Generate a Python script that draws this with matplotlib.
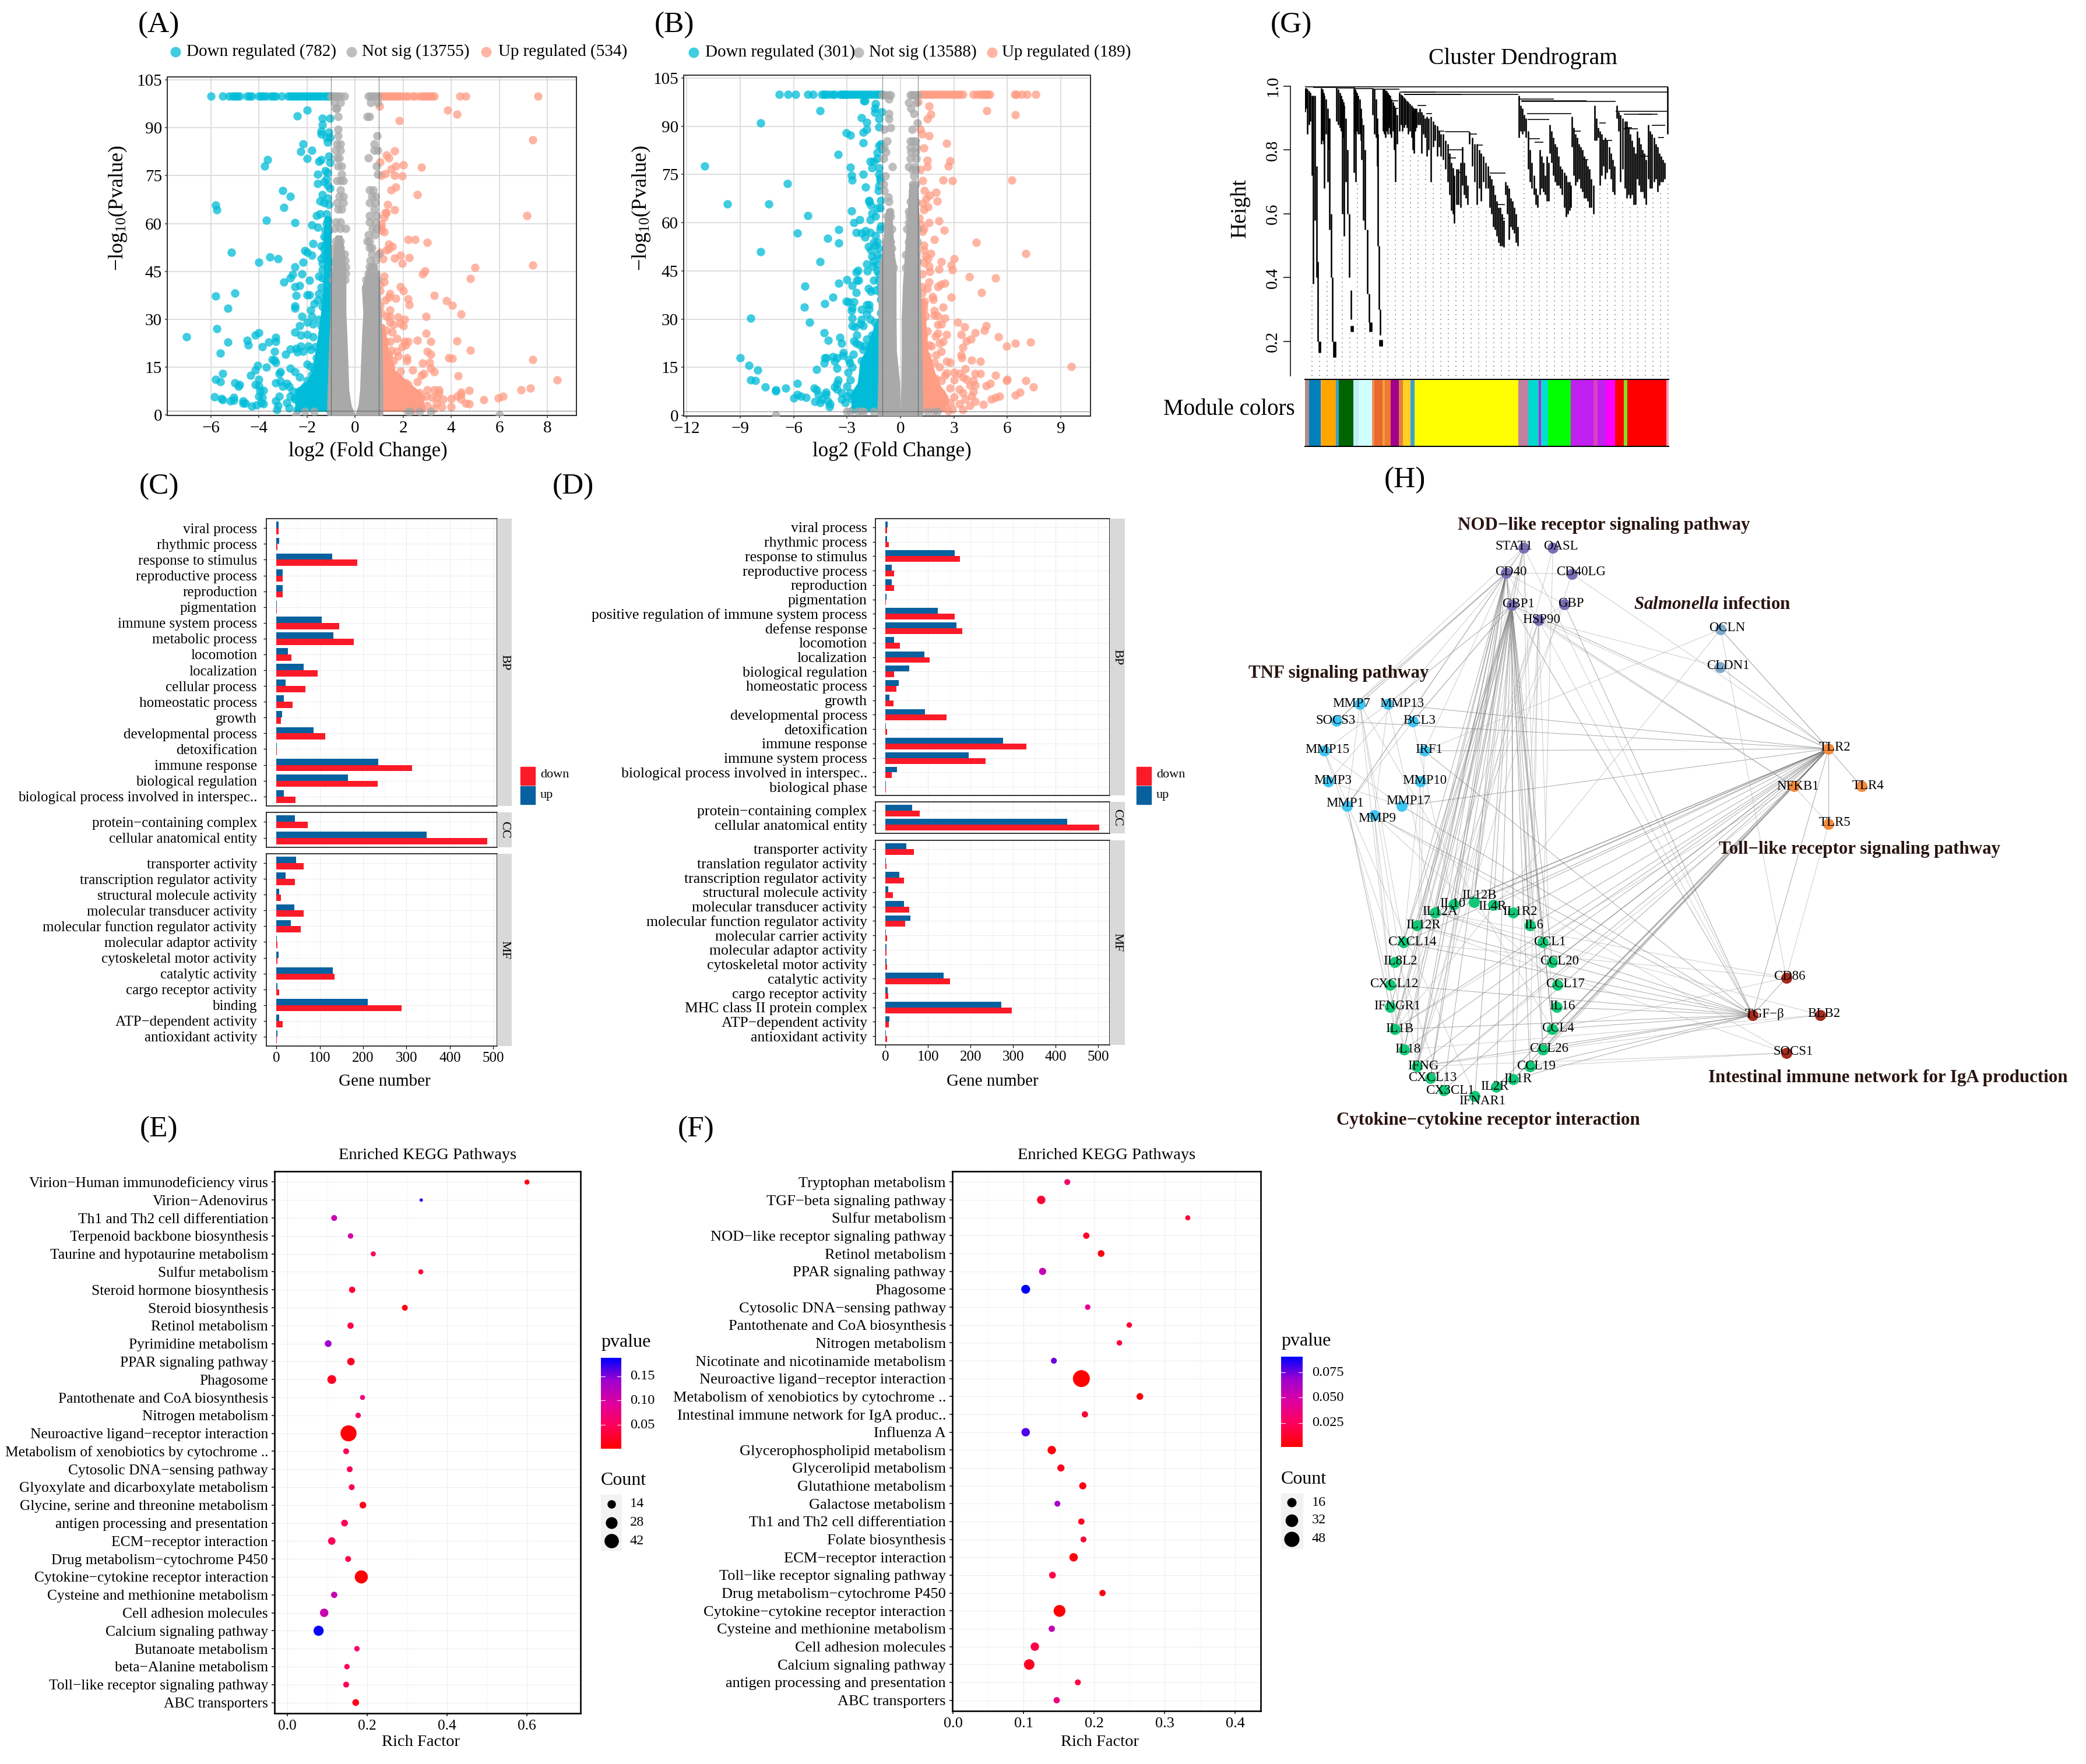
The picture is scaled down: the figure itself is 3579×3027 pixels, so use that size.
#!/usr/bin/env python3
"""Multi-panel transcriptome figure: volcano, GO bars, KEGG dots, WGCNA dendrogram, network."""

import matplotlib
matplotlib.use("Agg")
import matplotlib.pyplot as plt
import matplotlib.ticker
import numpy as np
from matplotlib.colors import LinearSegmentedColormap
from matplotlib.patches import Rectangle
from matplotlib.transforms import ScaledTranslation

W, H = 3580, 3027
plt.rcParams["font.family"] = ["Liberation Serif", "DejaVu Serif"]
plt.rcParams["mathtext.fontset"] = "custom"
plt.rcParams["mathtext.rm"] = "Liberation Serif"
plt.rcParams["mathtext.it"] = "Liberation Serif:italic"
plt.rcParams["mathtext.bf"] = "Liberation Serif:bold"
plt.rcParams["mathtext.bfit"] = "Liberation Serif:italic:bold"
plt.rcParams["mathtext.default"] = "rm"

CYAN, GREY, SALMON = "#00bcd8", "#a9a9a9", "#ff9c84"
DOWN_RED, UP_BLUE = "#fb1a28", "#08619f"

# ---------- volcano A: rows are (y, [x, ...]) for dense parts, plus single read-off points
A_DOWN_TOP = [-5.98, -5.5, -5.25, -5.1, -5.0, -4.9, -4.8, -4.5, -4.4, -4.3, -4.0, -3.9, -3.8, -3.7, -3.5, -3.4, -3.3,
              -3.05, -2.8, -2.7, -2.6, -2.5, -2.4, -2.3, -2.2, -2.1, -2.0, -1.9, -1.8, -1.7, -1.6, -1.5, -1.4, -1.3, -1.2, -1.1, -1.02]
A_DOWN_PTS = [(-2.0, 95.5), (-2.4, 93.6), (-1.35, 93), (-1.05, 93), (-1.35, 91), (-1.4, 89), (-1.4, 88), (-1.1, 88.5), (-1.05, 87),
              (-1.2, 87), (-1.15, 85.5), (-2.15, 85), (-1.8, 83), (-2.25, 82.5), (-2.0, 80.3), (-3.65, 80), (-3.75, 78), (-1.5, 79.5),
              (-1.4, 80), (-1.1, 81), (-1.05, 79), (-1.55, 75.5), (-1.15, 76), (-1.2, 74), (-1.55, 72.5), (-1.15, 72), (-1.05, 71),
              (-3.0, 70.3), (-2.7, 68.5), (-1.35, 69), (-1.45, 67), (-1.3, 66.5), (-1.1, 66), (-2.95, 65), (-5.8, 65.8), (-5.75, 64.3),
              (-1.6, 62.5), (-1.45, 63), (-1.15, 61), (-3.7, 61), (-2.5, 60.3), (-1.8, 59.5), (-1.55, 58.8), (-1.2, 60), (-1.1, 58),
              (-1.3, 56), (-1.75, 53.7), (-1.4, 53), (-2.1, 51.5), (-2.0, 51), (-1.3, 52), (-1.2, 51), (-1.8, 50), (-5.15, 51),
              (-3.55, 49.5), (-3.2, 49), (-4.0, 47.8), (-1.4, 49), (-1.35, 47.5), (-1.05, 48), (-2.15, 47.8), (-2.5, 46.5), (-1.35, 45.5),
              (-2.6, 44), (-2.2, 44.3), (-2.7, 43), (-1.5, 43.5), (-1.35, 43), (-1.1, 44), (-1.9, 42.3), (-2.95, 41.7), (-2.5, 40.2),
              (-2.3, 40.5), (-1.4, 40), (-5.0, 38.3), (-5.8, 37.3), (-2.45, 37.5), (-2.0, 37.7), (-1.9, 37.7), (-1.5, 38), (-1.55, 36),
              (-1.3, 36), (-2.5, 34.2), (-2.5, 33.5), (-5.3, 33.5), (-1.7, 35), (-1.35, 34), (-1.85, 33), (-1.8, 31), (-2.2, 31),
              (-1.5, 30), (-1.3, 30), (-2.0, 29), (-1.75, 28.5), (-2.3, 28), (-1.4, 28), (-5.75, 27), (-2.5, 26), (-2.25, 25),
              (-2.0, 25.3), (-1.75, 24.5), (-4.0, 25.8), (-4.15, 25), (-7.0, 24.5), (-4.5, 23.5), (-3.3, 24.3), (-3.6, 22.8), (-3.3, 23),
              (-5.3, 22.8), (-4.45, 22), (-3.85, 21.5), (-2.7, 20.7), (-2.45, 20.8), (-2.25, 21.7), (-1.95, 21.7), (-1.65, 21.5),
              (-5.6, 19.5), (-3.35, 20), (-2.9, 19), (-2.4, 19.8), (-2.15, 20), (-1.85, 20.5), (-1.6, 18), (-3.45, 17.5), (-3.35, 17.3),
              (-3.3, 16.5), (-2.0, 16), (-1.85, 15.3), (-4.05, 15.5), (-3.7, 15), (-2.7, 14.7), (-4.15, 14.2), (-2.5, 13.5), (-3.1, 13.5),
              (-5.5, 13), (-3.15, 13), (-4.35, 12.5), (-2.3, 12), (-5.8, 11.2), (-4.0, 11.3), (-5.6, 10.4), (-5.0, 10.2), (-4.8, 9.5),
              (-4.85, 9), (-4.15, 9.5), (-4, 9.2), (-3.3, 10.2), (-3.1, 10.7), (-2.85, 10), (-3.0, 9), (-2.75, 9), (-5.85, 5.8),
              (-5.55, 5.2), (-5.5, 4.8), (-5.05, 5.5), (-5.05, 4.6), (-5.2, 4.4), (-4.65, 4.5), (-4.65, 3.7), (-4.55, 3.8), (-4.1, 3.2),
              (-4.3, 2.9), (-3.8, 3.5), (-3.85, 5.5), (-3.95, 7.5), (-3.8, 7.7), (-3.3, 4.5), (-3.2, 3), (-3.25, 1.8), (-3.15, 6),
              (-2.75, 2.2), (-2.85, 4), (-2.7, 6), (-2.5, 5), (-2.6, 7.5), (-3.9, 4), (-4.0, 6)]
A_DOWN_ROWS = [(1.8, [-2.4, -1.08]), (5.4, [-2.5]), (9.0, [-2.1]), (10.8, [-2.0]), (12.6, [-1.8]), (14.4, [-1.7]), (16.2, [-1.6]), (18.0, [-1.45]),
               (20.0, [-1.5]), (22.0, [-1.35]), (26.0, [-1.35]), (30.5, [-1.15]), (32.5, [-1.2]), (37.5, [-1.2]), (42.0, [-1.2]), (46.0, [-1.15]),
               (50.0, [-1.3]), (53.5, [-1.25]), (55.5, [-1.2]), (58.0, [-1.25]), (63.0, [-1.2]), (68.0, [-1.15]), (73.0, [-1.3]), (76.5, [-1.25])]
A_DOWN_ENV = [(1.5, -2.45, -1.05), (8, -2.45, -1.05), (10, -2.0, -1.05), (14, -1.7, -1.05), (20, -1.6, -1.05), (30, -1.4, -1.05), (38, -1.3, -1.05),
              (45, -1.25, -1.05), (58, -1.25, -1.05), (62, -1.2, -1.05)]
A_NS_ROWS = [(42.5, [-0.92, -0.68, -0.42, 0.45, 0.7, 0.95]), (44.5, [-0.88, -0.65, -0.4, 0.55, 0.7, 0.88]),
             (46.5, [-0.85, -0.62, -0.4, 0.6, 0.78]), (48.5, [-0.82, -0.6, -0.42, 0.62, 0.85]), (50.5, [-0.85, -0.62, -0.45, 0.7, 0.98]),
             (52.5, [-0.85, -0.6, 0.6, 0.7]), (54.5, [-0.8, -0.6, 0.5, 0.6]), (56.5, [0.55, 0.82]), (58.5, [-0.85, -0.6, -0.38, 0.72, 0.9]),
             (60.5, [-0.8, -0.6, 0.6, 0.85]), (62.5, [0.6, 0.9]), (64.5, [-0.7, -0.55, 0.8]), (66.5, [-0.75, -0.5, 0.6, 0.85]),
             (68.5, [-0.65, -0.5, 0.7, 0.85]), (70.5, [-0.6, 0.6, 0.75]), (73.5, [-0.75, -0.6, -0.5]), (75.5, [-0.55, 0.95]),
             (78, [-0.7, -0.55, 0.9]), (80.5, [-0.75, -0.65, 0.55]), (83, [-0.8, -0.6, 0.8, 0.95]), (85, [-0.75, -0.6, 0.8]),
             (87.5, [-0.7, 0.92]), (89.5, [-0.7]), (93.5, [-0.7, 0.5, 0.6]), (96, [-0.75, -0.8]), (97.8, [-0.85, -0.6, 0.65, 0.95]),
             (99.8, [-1.0, -0.9, -0.8, -0.7, -0.6, -0.45, 0.55, 0.65, 0.75, 0.85, 0.95]),
             (1.2, [-2.1, -1.7, 2.2, 2.3, 2.7, 3.15]), (0.1, [-2.45, 6.0])]
A_NS_LEFT_ENV = [(0.2, -1.12, -0.05), (3, -1.12, -0.2), (8, -1.1, -0.3), (15, -1.07, -0.33), (25, -1.02, -0.38), (32, -0.98, -0.42), (40, -0.98, -0.42), (47, -0.88, -0.42), (52, -0.85, -0.5), (56, -0.78, -0.58)]
A_NS_RIGHT_ENV = [(0.2, 0.05, 1.12), (3, 0.18, 1.12), (8, 0.25, 1.12), (15, 0.28, 1.1), (25, 0.33, 1.08), (32, 0.38, 1.05), (40, 0.32, 1.0), (43, 0.45, 0.95), (47, 0.6, 0.85)]
A_UP_TOP = [1.05, 1.15, 1.25, 1.35, 1.45, 1.55, 1.65, 1.75, 1.85, 1.95, 2.1, 2.2, 2.4, 2.5, 2.7, 2.8, 2.9, 3.0, 3.1, 3.2, 3.3, 4.35, 4.6, 7.6]
A_UP_PTS = [(3.85, 95.5), (4.25, 94.2), (1.85, 92.3), (1.02, 96.8), (7.4, 86.2), (1.65, 82.8), (1.3, 81.5), (1.4, 80.5), (1.05, 79.2),
            (1.7, 78), (2.0, 78.3), (2.75, 77.7), (1.5, 77), (1.25, 75.7), (1.1, 75), (1.65, 75), (1.95, 74.8), (1.7, 71.5), (1.5, 70.5),
            (2.6, 69), (1.35, 66), (1.65, 64.3), (1.3, 63.3), (1.25, 63.3), (1.2, 62), (7.15, 62.5), (1.1, 60), (1.1, 58.8), (1.2, 57.3),
            (1.1, 58), (2.5, 55), (2.2, 55), (3.0, 54), (1.4, 53.5), (1.55, 52.8), (1.4, 52), (1.05, 51), (1.3, 51.7), (1.9, 50), (2.25, 49.3),
            (1.65, 49.2), (1.15, 49), (7.4, 47), (5.0, 46.2), (1.95, 47.5), (2.9, 45.2), (2.8, 44.2), (4.8, 42.7), (1.2, 43.5), (1.2, 41.7),
            (1.05, 41), (1.9, 40.3), (2.0, 39), (1.05, 39), (1.45, 38), (1.4, 37), (3.3, 37.5), (3.8, 35.8), (4.05, 34.3), (2.2, 36.3),
            (1.7, 36.5), (1.25, 36), (2.25, 34.5), (1.05, 34.2), (4.4, 31.7), (1.45, 33), (1.1, 32), (1.3, 31), (1.45, 31), (2.95, 31),
            (1.8, 30.8), (2.05, 30), (1.45, 29), (1.9, 28.7), (1.6, 28.3), (2.0, 28), (1.1, 27.5), (1.3, 26.5), (1.55, 26), (2.95, 25.7),
            (1.1, 25.5), (4.25, 23.3), (2.6, 23.5), (3.15, 23), (1.75, 24), (2.05, 23), (2.2, 23), (1.45, 23), (1.25, 23), (2.1, 22), (1.95, 21.5),
            (4.8, 20.3), (3.0, 20), (1.5, 20.3), (1.75, 20), (1.4, 19), (3.15, 19), (1.8, 18.5), (2.15, 18), (3.9, 18), (4.05, 17.7), (7.4, 17.5),
            (1.2, 18), (2.15, 17), (1.6, 17), (2.8, 16.3), (3.1, 16.5), (1.3, 15.7), (3.15, 14.7), (2.4, 14.2), (1.5, 14.8), (3.3, 13.5),
            (1.9, 13.7), (1.2, 13.5), (2.85, 13), (2.75, 12.5), (4.3, 12.3), (8.4, 11), (1.35, 12), (1.8, 11.8), (2.6, 10.5), (2.1, 10.2),
            (2.2, 9.5), (1.6, 10), (1.25, 10), (7.3, 8.4), (6.9, 7.9), (6.15, 6), (5.95, 5.3), (5.35, 4.9), (4.75, 7.7), (4.4, 7.2), (4.4, 6.5),
            (4.25, 6), (4.4, 5), (4.6, 3.8), (4.75, 3.5), (4.0, 5.1), (4.0, 2.6), (3.65, 5), (3.5, 8), (3.3, 8), (3.0, 8), (2.95, 6), (3.2, 5.5),
            (2.7, 7), (3.6, 2.6), (3.4, 3.7), (3.3, 2.1), (3.4, 5.5), (2.6, 4.5), (3, 3), (2.7, 2.3), (3.5, 7)]
A_UP_ROWS = [(1.8, [2.45]), (5.4, [2.75]), (9.0, [2.0]), (12.6, [1.5]), (16.2, [1.45]), (18.0, [1.4])]
A_UP_ENV = [(1.5, 1.12, 2.9), (7, 1.12, 2.7), (10, 1.12, 2.2), (14, 1.12, 1.6), (20, 1.12, 1.35), (28, 1.12, 1.2)]

# ---------- volcano B
B_DOWN_TOP = [-6.8, -6.3, -5.9, -5.2, -4.9, -4.4, -4.3, -4.2, -4.0, -3.8, -3.7, -3.4, -3.3, -3.2, -3.1, -3.0, -2.85, -2.7, -2.55, -2.4,
              -2.25, -2.1, -1.95, -1.8, -1.65, -1.5, -1.35, -1.2, -1.05]
B_DOWN_PTS = [(-2.0, 98), (-2.05, 98), (-1.4, 97), (-1.45, 95.5), (-1.45, 94.3), (-1.05, 94.5), (-4.5, 94.8), (-2.2, 92.7), (-1.9, 91.2),
              (-1.2, 92.3), (-7.85, 91), (-1.2, 89.8), (-1.9, 89), (-2.1, 88.2), (-3.05, 88), (-2.8, 87.3), (-2.1, 84.9), (-1.2, 84), (-1.1, 84.5),
              (-1.05, 83), (-3.5, 81.3), (-1.3, 81.7), (-1.3, 80), (-1.7, 79), (-1.5, 79), (-2.8, 77.3), (-1.6, 77), (-11.0, 77.7), (-2.75, 74.8),
              (-2.1, 75), (-1.2, 75), (-1.15, 74), (-2.7, 73.3), (-6.35, 72.2), (-1.2, 71.5), (-1.95, 71), (-1.25, 70), (-1.75, 67), (-1.75, 66.5),
              (-1.1, 67), (-1.65, 65.5), (-9.7, 65.8), (-7.4, 65.9), (-1.3, 64.5), (-1.15, 64.5), (-2.75, 63.7), (-5.2, 62.2), (-1.6, 63), (-1.4, 62),
              (-1.7, 61), (-2.3, 61), (-2.6, 60), (-1.1, 59), (-3.45, 57.9), (-2.5, 57), (-2.2, 56.7), (-1.95, 57.5), (-1.7, 57), (-1.4, 56),
              (-5.8, 56.8), (-4.1, 55.2), (-2.0, 55.5), (-3.45, 53.7), (-1.5, 53.8), (-1.3, 54), (-1.2, 52), (-1.8, 52.5), (-1.65, 51.5), (-7.85, 51),
              (-1.6, 49.5), (-1.3, 50), (-1.1, 49), (-4.5, 47.8), (-1.5, 48), (-1.9, 47.2), (-1.55, 46.5), (-1.3, 47), (-1.85, 45), (-2.5, 44.7),
              (-2.4, 45.2), (-1.3, 45), (-3.0, 42.2), (-2.45, 42), (-2.35, 42), (-1.5, 42), (-1.2, 42), (-3.45, 41.2), (-2.7, 40.5), (-5.35, 40.3),
              (-1.8, 39.5), (-1.65, 38.7), (-1.4, 39), (-2.5, 38.3), (-1.1, 38), (-3.8, 36.8), (-1.1, 36), (-3.05, 35.5), (-2.9, 35.3), (-2.6, 35.3),
              (-4.25, 34.8), (-1.9, 34.5), (-1.75, 34.5), (-5.4, 33.8), (-2.7, 33.5), (-2.75, 32.7), (-2.2, 33), (-1.75, 33.2), (-1.1, 32), (-8.4, 30.3),
              (-1.9, 31.5), (-2.7, 30.3), (-1.7, 30), (-2.2, 30), (-5.1, 29), (-2.25, 28.5), (-2.7, 28), (-2.55, 27.5), (-2.1, 28), (-1.45, 29),
              (-2.45, 25), (-4.3, 25.8), (-3.4, 24.3), (-4.05, 23.4), (-2.6, 23.2), (-1.9, 23.7), (-1.6, 25), (-3.3, 22.5), (-2.5, 22.5), (-2.3, 22),
              (-2.05, 21.5), (-1.4, 23), (-1.1, 22), (-2.1, 20.5), (-3.2, 19.5), (-3.25, 18.7), (-2.65, 19), (-3.8, 18.3), (-4.25, 18), (-4.15, 18),
              (-3.55, 18), (-9.0, 18), (-2.9, 17.5), (-3.7, 16.8), (-4.3, 16.3), (-2.2, 17), (-2.85, 16.3), (-8.5, 15.6), (-3.55, 14.7), (-2.7, 15),
              (-4.7, 14.3), (-8.0, 14.1), (-2.95, 13.5), (-5.8, 10), (-8.4, 11), (-8.15, 10.8), (-3.5, 11), (-3.55, 10), (-2.8, 11), (-3.0, 9),
              (-7.6, 8.8), (-7, 7.9), (-7, 7.6), (-6.45, 8.6), (-4.85, 8.6), (-4.7, 8), (-3.7, 8.8), (-3.55, 8.2), (-3.3, 7), (-4.2, 7.3), (-4.2, 6.5),
              (-5.8, 6.5), (-6, 5.4), (-5.6, 6), (-5.3, 5.7), (-4.6, 6.5), (-4.4, 5), (-4.8, 4.3), (-4.5, 4), (-4.1, 4.5), (-3.95, 3.7), (-4.0, 2.7),
              (-3.3, 5), (-3.1, 4), (-3.0, 6), (-2.7, 5), (-2.8, 7)]
B_DOWN_ROWS = [(2.0, [-2.6]), (6.0, [-2.6]), (10.0, [-2.2]), (14.0, [-2.1]), (16.0, [-1.95]), (18.0, [-1.8]), (20.0, [-1.65]), (22.0, [-1.7]), (24.0, [-1.5]),
               (28.0, [-1.3]), (40.0, [-1.15]), (44.0, [-1.2]), (53.0, [-1.4]), (58.0, [-1.15]), (73.0, [-1.15]), (77.0, [-1.2])]
B_DOWN_ENV = [(1.5, -2.7, -1.15), (7, -2.7, -1.15), (10, -2.35, -1.15), (17, -2.2, -1.15), (20, -1.9, -1.15), (25, -1.6, -1.15), (30, -1.25, -1.1)]
B_NS_ROWS = [(46.0, [-0.95, -0.65, -0.4, 0.3, 0.6, 0.9]), (48.0, [-0.9, -0.6, 0.45, 0.75, 0.95]), (50.0, [-0.85, -0.55, 0.3, 0.6, 0.9]),
             (52.0, [-0.75, -0.5, 0.5, 0.8]), (54.0, [-0.8, -0.55, 0.45, 0.75, 0.95]), (56.0, [-0.7, 0.55, 0.85]), (58.0, [-0.75, -0.5, 0.35, 0.7, 0.95]),
             (60.0, [-0.7, 0.45, 0.75]), (62.0, [-0.75, -0.55, 0.5, 0.8]), (63.5, [-0.6, 0.45, 0.7]), (66.5, [-0.65, 0.55, 0.85]), (68, [-0.7, 0.75]),
             (70, [-0.9, 0.7]), (72, [-0.95, 0.7, 0.85]), (74.5, [-0.85, 0.75]), (76.5, [0.65, 0.85]), (77.5, [-0.45, 0.45, 0.8]), (80, [-0.95, 0.55, 0.9]),
             (82, [-0.8, 0.6, 0.85]), (83.5, [-0.9, 0.55, 0.9]), (85.5, [-0.75, 0.55, 0.7, 0.85]), (89, [-0.9, 0.65]), (89.5, [-0.55]), (92.3, [-0.65]),
             (91, [0.95]), (94, [-0.65, 0.75]), (95.5, [0.6]), (97.3, [0.45, 0.9]), (98.5, [-0.65]), (99.8, [-1.0, -0.85, -0.7, -0.55, 0.55, 0.65, 0.75, 0.85, 0.95]),
             (1.2, [-3.0, -2.8, -2.4, -2.2, -2.05, -1.5, 1.5, 1.9, 2.05]), (0.1, [-7.0])]
B_NS_LEFT_ENV = [(0.2, -1.25, -0.05), (10, -1.2, -0.1), (20, -1.18, -0.28), (30, -1.18, -0.3), (40, -1.18, -0.3), (47, -1.1, -0.3), (50, -0.95, -0.4), (60, -0.85, -0.5), (64, -0.75, -0.5)]
B_NS_RIGHT_ENV = [(0.2, 0.05, 1.2), (10, 0.1, 1.18), (20, 0.12, 1.15), (30, 0.12, 1.12), (40, 0.18, 1.08), (50, 0.3, 1.02), (60, 0.42, 1.0), (72, 0.55, 0.9)]
B_UP_TOP = [1.1, 1.25, 1.4, 1.55, 1.7, 1.85, 2.0, 2.15, 2.3, 2.45, 2.6, 2.75, 2.9, 3.05, 3.2, 3.35, 3.5, 4.1, 4.3, 4.5, 4.6, 4.7, 4.8, 4.9, 5.0, 6.4, 6.5, 6.8, 7.1, 7.6]
B_UP_PTS = [(1.0, 97.5), (1.6, 96.3), (1.7, 93.7), (4.85, 94.8), (6.45, 93.5), (1.5, 92.3), (1.1, 89), (1.2, 87.5), (1.6, 87), (2.6, 84.6), (1.3, 83.3),
            (1.5, 79.5), (2.8, 79.3), (2.7, 77.7), (1.5, 77.5), (1.1, 76.5), (1.25, 73), (2.4, 73.2), (2.9, 73), (6.25, 73.3), (1.35, 70), (2.0, 69.5),
            (1.65, 68.5), (1.45, 67.5), (2.05, 66.7), (1.25, 66), (1.55, 65), (1.3, 64), (1.05, 61.5), (2.15, 60.5), (1.6, 60), (1.15, 59.5), (1.3, 58.2),
            (2.45, 57.7), (1.25, 57.3), (1.9, 54.8), (4.25, 53.8), (1.3, 53), (1.3, 51.5), (1.7, 50.5), (1.4, 49.5), (7.05, 50.4), (1.55, 48.7), (3.0, 48.7),
            (2.3, 47.8), (2.85, 46.8), (1.3, 47.5), (1.6, 46.5), (2.15, 45.5), (2.9, 45.3), (1.65, 44.8), (1.2, 44), (3.85, 43.2), (5.35, 42.8), (1.6, 41.5),
            (2.5, 41.2), (2.25, 40.8), (1.5, 39.5), (2.1, 40), (1.2, 40), (4.55, 38.3), (1.2, 38), (1.8, 37), (2.85, 36.8), (1.85, 36), (1.35, 35.5),
            (1.3, 34.5), (2.4, 33.7), (1.3, 33), (1.9, 32.7), (1.9, 31.2), (2.1, 31), (1.4, 31), (1.25, 30), (2.5, 30.3), (3.2, 29), (4.8, 28), (2.3, 28.5),
            (2.1, 28.3), (3.6, 27.5), (1.5, 26.3), (4.2, 25.7), (4.7, 26.5), (2.1, 25.5), (1.3, 25), (3.4, 25.2), (2.6, 25.2), (1.95, 24.7), (5.5, 24.5),
            (3.95, 23.8), (3.7, 23.2), (2.4, 23), (2.2, 22.5), (6.45, 22.4), (7.3, 22.8), (1.75, 21.5), (5.95, 21.5), (3.5, 21.3), (2.3, 20), (2.0, 18.8),
            (3.4, 18.8), (1.5, 18.5), (3.45, 18), (4, 17.3), (4.5, 16.8), (2.6, 16.8), (2.8, 16.5), (1.9, 16.5), (9.6, 15.3), (1.2, 16), (2.2, 15), (1.45, 15),
            (3.65, 14.5), (3, 13.5), (3.3, 13), (4.2, 13), (4.5, 13), (5.35, 12.6), (2.5, 12.5), (2.6, 13.2), (3.5, 12), (1.3, 12.5), (2, 11.5), (3.7, 11.2),
            (3.0, 11), (2.3, 10.8), (4.1, 10.8), (5.95, 10.8), (6, 11.3), (7.05, 10.8), (3.9, 9.5), (4.2, 9.5), (5.05, 10), (4.8, 9.2), (7.45, 8.8), (2.8, 8.5),
            (3.3, 8.2), (6.7, 7.2), (6.45, 6.4), (5.55, 6), (5.35, 5.7), (5.1, 5), (4.65, 3.5), (4, 6), (3.5, 7), (4.2, 4.3), (3.9, 3), (3.3, 3.7), (3.5, 1.8),
            (2.9, 2), (2.7, 1.5), (2.5, 5), (2.8, 4), (3, 5.8), (2.3, 7), (2.0, 5), (2.5, 2.7), (3.65, 5), (4.1, 7.5)]
B_UP_ROWS = [(4.0, [2.45]), (10.0, [1.9]), (14.0, [1.6]), (17.0, [1.55]), (22.0, [1.6])]
B_UP_ENV = [(1.5, 1.15, 2.4), (6, 1.15, 2.6), (9, 1.15, 2.2), (13, 1.15, 1.9), (20, 1.15, 1.5), (30, 1.15, 1.35), (36, 1.15, 1.3)]

# ---------- GO bars, panel C
C_BP = ["viral process", "rhythmic process", "response to stimulus", "reproductive process", "reproduction", "pigmentation",
        "immune system process", "metabolic process", "locomotion", "localization", "cellular process", "homeostatic process",
        "growth", "developmental process", "detoxification", "immune response", "biological regulation",
        "biological process involved in interspec.."]
C_BP_UP = [5, 7, 129, 15, 15, 1, 105, 132, 26, 63, 21, 17, 13, 85, 1, 235, 165, 17]
C_BP_DOWN = [5, 3, 187, 15, 15, 1, 145, 179, 35, 95, 67, 37, 10, 113, 1, 313, 234, 44]
C_CC = ["protein\u2212containing complex", "cellular anatomical entity"]
C_CC_UP = [42, 347]
C_CC_DOWN = [72, 486]
C_MF = ["transporter activity", "transcription regulator activity", "structural molecule activity", "molecular transducer activity",
        "molecular function regulator activity", "molecular adaptor activity", "cytoskeletal motor activity", "catalytic activity",
        "cargo receptor activity", "binding", "ATP\u2212dependent activity", "antioxidant activity"]
C_MF_UP = [46, 21, 7, 41, 33, 1, 5, 130, 3, 210, 7, 3]
C_MF_DOWN = [63, 42, 10, 63, 56, 3, 3, 134, 7, 288, 15, 1]

# ---------- GO bars, panel D
D_BP = ["viral process", "rhythmic process", "response to stimulus", "reproductive process", "reproduction", "pigmentation",
        "positive regulation of immune system process", "defense response", "locomotion", "localization", "biological regulation",
        "homeostatic process", "growth", "developmental process", "detoxification", "immune response", "immune system process",
        "biological process involved in interspec..", "biological phase"]
D_BP_UP = [5, 3, 163, 14, 14, 2, 123, 167, 20, 92, 55, 31, 9, 93, 1, 276, 195, 27, 1]
D_BP_DOWN = [3, 7, 175, 20, 20, 1, 162, 180, 34, 103, 20, 25, 18, 143, 3, 332, 235, 14, 0.5]
D_CC = ["protein\u2212containing complex", "cellular anatomical entity"]
D_CC_UP = [62, 428]
D_CC_DOWN = [81, 503]
D_MF = ["transporter activity", "translation regulator activity", "transcription regulator activity", "structural molecule activity",
        "molecular transducer activity", "molecular function regulator activity", "molecular carrier activity", "molecular adaptor activity",
        "cytoskeletal motor activity", "catalytic activity", "cargo receptor activity", "MHC class II protein complex",
        "ATP\u2212dependent activity", "antioxidant activity"]
D_MF_UP = [49, 0.5, 33, 6, 44, 58, 1, 2, 2, 137, 5, 273, 9, 0.5]
D_MF_DOWN = [66, 2, 44, 17, 55, 46, 3, 2, 3, 152, 6, 297, 7, 3]

# ---------- KEGG dots
E_PATHS = ["Virion\u2212Human immunodeficiency virus", "Virion\u2212Adenovirus", "Th1 and Th2 cell differentiation", "Terpenoid backbone biosynthesis",
           "Taurine and hypotaurine metabolism", "Sulfur metabolism", "Steroid hormone biosynthesis", "Steroid biosynthesis", "Retinol metabolism",
           "Pyrimidine metabolism", "PPAR signaling pathway", "Phagosome", "Pantothenate and CoA biosynthesis", "Nitrogen metabolism",
           "Neuroactive ligand\u2212receptor interaction", "Metabolism of xenobiotics by cytochrome ..", "Cytosolic DNA\u2212sensing pathway",
           "Glyoxylate and dicarboxylate metabolism", "Glycine, serine and threonine metabolism", "antigen processing and presentation",
           "ECM\u2212receptor interaction", "Drug metabolism\u2212cytochrome P450", "Cytokine\u2212cytokine receptor interaction",
           "Cysteine and methionine metabolism", "Cell adhesion molecules", "Calcium signaling pathway", "Butanoate metabolism",
           "beta\u2212Alanine metabolism", "Toll\u2212like receptor signaling pathway", "ABC transporters"]
E_RICH = [0.600, 0.335, 0.117, 0.158, 0.215, 0.334, 0.162, 0.294, 0.158, 0.102, 0.159, 0.111, 0.188, 0.177, 0.153, 0.147, 0.156, 0.161,
          0.189, 0.143, 0.111, 0.152, 0.185, 0.117, 0.092, 0.078, 0.174, 0.149, 0.147, 0.171]
E_COUNT = [4.5, 1.6, 6.4, 5.4, 4.5, 4.5, 7.5, 6.4, 7.5, 8.7, 11, 15.5, 4.5, 5.4, 52.7, 6.4, 6.4, 6.4, 8.7, 8.7, 11, 6.4, 34.8, 7.5, 14, 20.5, 5.4, 5.4, 6.4, 8.7]
E_PVAL = [0.01, 0.17, 0.11, 0.10, 0.05, 0.03, 0.03, 0.01, 0.04, 0.14, 0.02, 0.02, 0.07, 0.06, 0.005, 0.05, 0.05, 0.04, 0.015, 0.05, 0.05, 0.04,
          0.005, 0.11, 0.11, 0.185, 0.06, 0.05, 0.05, 0.015]
E_LEG_COUNT = [14, 28, 42]
E_CB_TICKS = [0.05, 0.10, 0.15]

F_PATHS = ["Tryptophan metabolism", "TGF\u2212beta signaling pathway", "Sulfur metabolism", "NOD\u2212like receptor signaling pathway", "Retinol metabolism",
           "PPAR signaling pathway", "Phagosome", "Cytosolic DNA\u2212sensing pathway", "Pantothenate and CoA biosynthesis", "Nitrogen metabolism",
           "Nicotinate and nicotinamide metabolism", "Neuroactive ligand\u2212receptor interaction", "Metabolism of xenobiotics by cytochrome ..",
           "Intestinal immune network for IgA produc..", "Influenza A", "Glycerophospholipid metabolism", "Glycerolipid metabolism",
           "Glutathione metabolism", "Galactose metabolism", "Th1 and Th2 cell differentiation", "Folate biosynthesis", "ECM\u2212receptor interaction",
           "Toll\u2212like receptor signaling pathway", "Drug metabolism\u2212cytochrome P450", "Cytokine\u2212cytokine receptor interaction",
           "Cysteine and methionine metabolism", "Cell adhesion molecules", "Calcium signaling pathway", "antigen processing and presentation", "ABC transporters"]
F_RICH = [0.162, 0.125, 0.333, 0.189, 0.210, 0.127, 0.103, 0.191, 0.250, 0.236, 0.143, 0.182, 0.265, 0.187, 0.103, 0.140, 0.153, 0.184, 0.148, 0.182,
          0.185, 0.171, 0.141, 0.212, 0.151, 0.140, 0.116, 0.108, 0.177, 0.147]
F_COUNT = [4.6, 12.6, 2.5, 5.7, 7, 8.2, 14.2, 3.5, 3.5, 3.5, 4.6, 60, 7, 5.7, 12.6, 12.6, 8.2, 8.2, 4.6, 5.7, 4.6, 12.6, 7, 5.7, 27.7, 5.7, 12.6, 21.5, 4.6, 5.7]
F_PVAL = [0.03, 0.015, 0.015, 0.012, 0.005, 0.055, 0.09, 0.04, 0.015, 0.017, 0.075, 0.002, 0.004, 0.015, 0.08, 0.005, 0.01, 0.006, 0.065, 0.01, 0.016,
          0.004, 0.02, 0.006, 0.002, 0.055, 0.02, 0.01, 0.018, 0.035]
F_LEG_COUNT = [16, 32, 48]
F_CB_TICKS = [0.025, 0.050, 0.075]

# ---------- dendrogram: (leaf order, top height, bottom height)
DEN_BRANCHES = [
    (272, .995, .92), (276, .995, .93), (280, .99, .85), (285, .985, .88), (290, .98, .89), (295, .97, .72), (300, .97, .38), (305, .97, .58), (311, .75, .40), (316, .45, .20), (319, .2, .165), (321, .2, .165), (323, .2, .165),
    (327, .995, .82), (331, .99, .83), (335, .98, .82), (337, .97, .68), (342, .96, .85), (348, .93, .70), (352, .90, .80), (355, .90, .55), (360, .60, .40), (365, .40, .20), (368, .2, .15), (371, .2, .15), (374, .2, .15),
    (378, .995, .89), (384, .99, .88), (390, .98, .87), (394, .97, .86), (397, .96, .60), (401, .95, .84), (404, .94, .53), (410, .90, .70), (415, .80, .60), (421, .60, .40), (427, .36, .27), (427, .25, .23), (430, .25, .23), (433, .25, .23),
    (436, .995, .73), (440, .99, .85), (443, .985, .70), (447, .98, .86), (450, .97, .85), (456, .96, .85), (460, .93, .83), (463, .90, .77), (469, .88, .58), (475, .80, .55), (482, .55, .35), (488, .35, .26), (489, .26, .23), (492, .26, .23), (495, .26, .23),
    (500, .995, .91), (506, .99, .85), (512, .96, .84), (516, .90, .75), (518, .85, .50), (522, .50, .30), (526, .30, .22), (524, .205, .185), (527, .205, .185), (530, .205, .185),
    (534, .992, .86), (538, .99, .85), (542, .988, .84), (546, .985, .86), (550, .98, .85), (554, .975, .87), (558, .97, .85), (562, .96, .84), (568, .95, .86), (572, .94, .80), (576, .93, .70), (582, .91, .82),
    (590, .98, .86), (595, .975, .88), (600, .97, .86), (605, .965, .87), (610, .96, .88), (615, .955, .87), (620, .95, .85), (625, .945, .86), (630, .94, .84), (635, .935, .80), (638, .93, .79), (642, .93, .86),
    (646, .93, .87), (652, .92, .88), (658, .93, .88), (664, .92, .79), (670, .91, .85), (676, .90, .84), (682, .905, .78), (688, .90, .80), (696, .905, .70), (703, .89, .81), (709, .88, .83),
    (718, .875, .78), (724, .86, .81), (730, .85, .78), (736, .85, .77), (745, .83, .74), (752, .82, .70), (758, .79, .66), (764, .76, .61), (770, .745, .60), (775, .72, .57), (782, .74, .63), (788, .74, .63),
    (796, .76, .62), (802, .81, .69), (808, .76, .66), (814, .72, .65), (820, .69, .63),
    (826, .858, .82), (834, .84, .75), (842, .82, .70), (850, .82, .63), (858, .80, .68), (864, .79, .64), (872, .78, .70), (880, .76, .68), (888, .75, .68),
    (893, .72, .62), (899, .71, .60), (905, .69, .56), (911, .66, .55), (917, .64, .53), (923, .62, .51), (929, .62, .50), (935, .60, .50), (941, .58, .495),
    (947, .70, .66), (953, .69, .60), (959, .68, .52), (965, .65, .56), (971, .64, .55), (977, .62, .54), (983, .60, .51), (988, .56, .50),
    (991, .97, .84), (997, .94, .86), (1003, .93, .85), (1009, .91, .86), (1015, .90, .84),
    (1024, .86, .74), (1030, .80, .70), (1036, .76, .68), (1042, .72, .66), (1048, .68, .63), (1054, .66, .62), (1062, .80, .66), (1068, .78, .68), (1074, .76, .67), (1080, .72, .66), (1086, .78, .64), (1091, .76, .64),
    (1096, .88, .79), (1102, .86, .76), (1108, .84, .72), (1114, .82, .70), (1120, .81, .69), (1126, .78, .69), (1132, .75, .68), (1138, .74, .66), (1144, .73, .62), (1150, .72, .59), (1156, .70, .60), (1162, .70, .61), (1167, .69, .62),
    (1170, .905, .81), (1176, .87, .72), (1182, .85, .69), (1188, .84, .70), (1194, .82, .71), (1200, .81, .68), (1206, .80, .67), (1212, .78, .65), (1218, .77, .65), (1224, .75, .64), (1230, .74, .62), (1236, .71, .62), (1242, .69, .60),
    (1247, .94, .83), (1253, .90, .83), (1259, .87, .84), (1265, .86, .69), (1271, .85, .72), (1277, .83, .75), (1283, .84, .71), (1289, .83, .73), (1295, .81, .74), (1301, .79, .71), (1307, .77, .67), (1313, .75, .66),
    (1322, .94, .90), (1328, .92, .86), (1334, .91, .70), (1342, .90, .74), (1348, .89, .68), (1354, .89, .65), (1360, .87, .66), (1366, .85, .65), (1372, .83, .66), (1378, .81, .63), (1384, .79, .63),
    (1390, .86, .71), (1396, .84, .69), (1402, .82, .67), (1408, .80, .67), (1414, .79, .65), (1420, .77, .63),
    (1428, .88, .71), (1434, .86, .68), (1440, .85, .68), (1446, .84, .70), (1452, .82, .71), (1458, .81, .67), (1464, .79, .69), (1470, .78, .70), (1476, .77, .70), (1482, .76, .71), (1493, .998, .85)]
DEN_MERGES = [(272, 1494, .998), (300, 375, .996), (375, 440, .994), (440, 500, .993), (500, 590, .99), (590, 712, .982), (600, 1492, .982),
              (605, 798, .974), (605, 990, .974), (990, 1110, .96), (1000, 1220, .955), (1000, 1245, .952), (1245, 1318, .952), (1020, 1168, .915),
              (1022, 1094, .896), (1318, 1490, .921), (1345, 1440, .912), (1395, 1458, .913), (1345, 1392, .866), (1440, 1485, .877), (742, 826, .858),
              (893, 947, .727), (650, 680, .94), (680, 700, .915), (720, 740, .86), (750, 805, .80), (755, 780, .775), (825, 850, .85), (850, 870, .815),
              (1024, 1062, .835), (1045, 1075, .825), (1178, 1200, .86), (1205, 1225, .77), (1262, 1285, .885), (1272, 1305, .83), (1350, 1372, .87),
              (1400, 1430, .78), (1460, 1480, .84), (565, 585, .955), (570, 585, .93), (785, 800, .73), (920, 945, .63), (930, 945, .585)]
MODULE_WIDTHS = [17, 47, 6, 57, 10, 60, 23, 53, 10, 34, 8, 25, 32, 18, 30, 17, 423, 42, 42, 11, 27, 93, 92, 18, 33, 38, 35, 16, 158, 10]
MODULE_COLORS = ["#b08a8a", "#0080b8", "#f4a460", "#ffa500", "#3a9fc0", "#006400", "#c0f0f5", "#d0ffff", "#f09050", "#e9692f", "#f0a040", "#f07a30",
                 "#a0008c", "#e08040", "#ffd020", "#40a0d0", "#ffff00", "#c080a0", "#00d8d0", "#c020e0", "#00e0d0", "#00ff00", "#c020f0", "#e040c0",
                 "#c020f0", "#ff00ff", "#ff0000", "#80e020", "#ff0000", "#f0a0c0"]

# ---------- network
NET_NODES = {
    "STAT1": (545, 128, 527, 125, 0), "OASL": (598, 128, 612, 125, 0), "CD40": (513, 190, 522, 188, 0), "CD40LG": (632, 192, 649, 188, 0),
    "GBP1": (523, 268, 535, 266, 0), "GBP": (619, 267, 631, 265, 0), "HSP90": (572, 305, 577, 305, 0),
    "OCLN": (903, 328, 915, 325, 1), "CLDN1": (902, 420, 916, 417, 1),
    "MMP7": (247, 510, 232, 509, 2), "MMP13": (298, 510, 323, 509, 2), "SOCS3": (205, 552, 203, 551, 2), "BCL3": (343, 553, 355, 551, 2),
    "MMP15": (182, 625, 188, 622, 2), "IRF1": (364, 625, 373, 622, 2), "MMP3": (190, 700, 198, 698, 2), "MMP10": (357, 700, 365, 698, 2),
    "MMP1": (224, 760, 220, 753, 2), "MMP17": (323, 760, 335, 748, 2), "MMP9": (273, 782, 278, 790, 2),
    "TLR2": (1099, 620, 1110, 617, 3), "NFKB1": (1036, 712, 1043, 712, 3), "TLR4": (1159, 712, 1171, 710, 3), "TLR5": (1099, 804, 1110, 801, 3),
    "IL12B": (454, 995, 464, 978, 4), "IL10": (417, 1000, 416, 998, 4), "IL4R": (490, 1002, 488, 1006, 4), "IL12A": (383, 1020, 393, 1019, 4),
    "IL1R2": (526, 1021, 538, 1019, 4), "IL12R": (351, 1052, 362, 1051, 4), "IL6": (556, 1052, 563, 1051, 4), "CXCL14": (326, 1094, 342, 1092, 4),
    "CCL1": (579, 1094, 592, 1092, 4), "IL8L2": (310, 1142, 320, 1140, 4), "CCL20": (597, 1142, 610, 1140, 4), "CXCL12": (302, 1197, 309, 1195, 4),
    "CCL17": (606, 1197, 620, 1195, 4), "IFNGR1": (302, 1252, 315, 1250, 4), "IL16": (605, 1252, 615, 1250, 4), "IL1B": (310, 1306, 319, 1305, 4),
    "CCL4": (597, 1306, 607, 1304, 4), "IL18": (327, 1356, 334, 1355, 4), "CCL26": (580, 1356, 591, 1354, 4), "IFNG": (351, 1397, 362, 1396, 4),
    "CCL19": (556, 1397, 567, 1396, 4), "CXCL13": (375, 1426, 379, 1425, 4), "IL1R": (526, 1428, 534, 1427, 4), "CX3CL1": (399, 1455, 411, 1456, 4),
    "IL2R": (495, 1447, 492, 1446, 4), "IFNAR1": (456, 1469, 469, 1482, 4),
    "CD86": (1022, 1180, 1028, 1177, 5), "TGF\u2212\u03b2": (961, 1271, 983, 1269, 5), "BLB2": (1084, 1271, 1091, 1268, 5), "SOCS1": (1022, 1364, 1035, 1361, 5),
}
NET_COLORS = ["#7a6fb5", "#7fa8c9", "#3ec6f2", "#f58a3c", "#10c876", "#a52a1e"]
TGFB = "TGF\u2212\u03b2"
NET_EDGES = {
    "CD40": ["MMP7", "MMP1", "SOCS3", "IL12A", "IL12B", "IL10", "IL12R", "IFNG", "IL18", "IL6", "IL1B", "CCL4", "CXCL13", "CXCL14", "STAT1", "GBP1"],
    "GBP1": ["IL10", "IL12A", "IL12B", "IL12R", "IL1B", "IL18", "IFNG", "IL6", "IL1R", "IL2R", "CCL4", "CCL26", "CCL19", "CXCL13", "CX3CL1", "IFNAR1",
             "IL4R", "IL1R2", "CCL1", "CCL20", "IFNGR1", TGFB, "CXCL14", "TLR2", "MMP13", "BCL3"],
    "STAT1": ["IFNG", "IL6", "IL1B", "IL10", "IL12B", "CCL26", TGFB, "MMP1", "IL12A", "SOCS3"],
    "HSP90": ["TLR2", "IL1R", "CCL4", "IL6", "IL10", "IFNG", "NFKB1", "CCL19", TGFB, "CD40", "CLDN1", "IL1B"],
    "OASL": ["IFNG", "CCL1"], "GBP": ["IL1B", "CD40", "HSP90"], "CD40LG": ["TLR2", "CD40", "IFNG"],
    "TLR2": ["IL12B", "IL10", "IL4R", "IL12A", "IL1R2", "IL12R", "IL6", "CXCL14", "CCL1", "CCL20", "IL1B", "IL18", "IFNG", "CCL4", "CCL26", "CCL19", "CXCL13",
             "CX3CL1", "IL1R", "IL2R", "MMP17", "MMP13", "SOCS3", "IRF1", TGFB, "NFKB1", "TLR4", "TLR5", "OCLN", "CLDN1"],
    "NFKB1": ["CCL4", "IL1B", "IL2R", "TLR5", "IL1R", "CXCL13", "CCL26", "HSP90", "GBP1"],
    TGFB: ["IL12A", "IL12R", "CCL17", "CCL4", "CCL26", "CCL19", "IFNG", "IL1B", "CXCL12", "IL16", "MMP9", "IL1R", "CD86", "CXCL14", "IRF1", "MMP17", "GBP"],
    "SOCS1": ["IFNG", "IL12R", "CCL19", "MMP9"], "BLB2": ["IL12A", "IFNG", "IL18"], "CD86": ["IL12A", "TLR5", "CXCL14", "CCL4", "OCLN"],
    "MMP7": ["IL1B", "IFNG", "CXCL14", "CCL4", "MMP1"], "MMP1": ["IL18", "IL1B", "BCL3", "IFNGR1"], "MMP3": ["CD40", "MMP17"], "MMP9": ["CXCL12", "CCL17", "IL18"],
    "MMP15": ["CX3CL1", "MMP17", "IFNAR1", "MMP13"], "MMP13": ["IL12A", "MMP9"], "IRF1": ["OCLN", "IFNG", "CD40"], "BCL3": ["IL10", "GBP1"], "MMP10": ["IFNG", "IL1B"],
    "OCLN": ["IL1B", "TLR2"],
}
NET_TITLES = [("NOD\u2212like receptor signaling pathway", 690, 73), ("$\\mathbfit{Salmonella}$ infection", 888, 267),
              ("TNF signaling pathway", 208, 435), ("Toll\u2212like receptor signaling pathway", 1155, 866),
              ("Intestinal immune network for IgA production", 1207, 1425), ("Cytokine\u2212cytokine receptor interaction", 480, 1529)]

PANEL_LETTERS = [("(A)", 272, 43), ("(B)", 1157, 43), ("(C)", 273, 835), ("(D)", 983, 835), ("(E)", 272, 1938), ("(F)", 1194, 1938), ("(G)", 2215, 43), ("(H)", 2410, 824)]


def pt(px):
    return px * 72 / 100


fig = plt.figure(figsize=(W / 100, H / 100), dpi=100, facecolor="white")


def px_ax(l, t, r, b, **kw):
    return fig.add_axes([l / W, 1 - b / H, (r - l) / W, (b - t) / H], **kw)


def ftext(x, y, s, size, ha="center", va="center", **kw):
    fig.text(x / W, 1 - y / H, s, fontsize=size, ha=ha, va=va, **kw)


def expand(top, pts, rows):
    xs = list(top)
    ys = [99.9] * len(top)
    for x, y in pts:
        xs.append(x)
        ys.append(y)
    for y, row in rows:
        xs.extend(row)
        ys.extend([y] * len(row))
    return xs, ys


def volcano(box, xlim, ylim, xticks, down, ns, up, envs, legend):
    ax = px_ax(*box)
    ax.set_xlim(*xlim)
    ax.set_ylim(*ylim)
    ax.set_xticks(xticks)
    ax.set_yticks(range(0, 106, 15))
    ax.grid(True, color="#dedede", lw=pt(2))
    ax.set_axisbelow(True)
    # the dense bottom of each cloud cannot be read point by point, so its outline is used
    for rows, color, zo in zip(envs, [CYAN, SALMON, GREY, GREY], [2, 2, 3, 3]):
        yy, lo, hi = zip(*rows)
        ax.fill_betweenx(yy, lo, hi, color=color, lw=pt(4), zorder=zo)
    size = pt(14.5) ** 2
    for data, color, zo in [(down, CYAN, 2.5), (up, SALMON, 2.5), (ns, GREY, 3.5)]:
        ax.scatter(*data, s=size, color=color, alpha=0.75, linewidths=0, zorder=zo)
    for x in (-1, 1):
        ax.axvline(x, color="#333333", lw=pt(1.3), ls=(0, (1, 1)), zorder=4)
    ax.axhline(1.3, color="#333333", lw=pt(1.3), ls=(0, (1, 1)), zorder=4)
    ax.tick_params(length=pt(4), width=pt(1.5), labelsize=21, pad=pt(5), color="#333333")
    for s in ax.spines.values():
        s.set_linewidth(pt(2))
        s.set_color("#333333")
    ly, items = legend
    for (dot_x, text_x, label), color in zip(items, [CYAN, GREY, SALMON]):
        fig.add_artist(plt.Line2D([dot_x / W], [1 - ly / H], marker="o", ms=pt(18), color=color, alpha=0.75, mew=0, ls=""))
        ftext(text_x, ly, label, 21, ha="left")


def go_bars(l, r, boxes, xlim, groups, strip_r, legend_x, ylab_pad, lab_size, lab_up):
    for (t, b), (terms, ups, downs, tag) in zip(boxes, groups):
        n = len(terms)
        ax = px_ax(l, t, r, b)
        y = np.arange(n)
        ax.barh(y - 0.2, ups, height=0.4, color=UP_BLUE, zorder=3)
        ax.barh(y + 0.2, downs, height=0.4, color=DOWN_RED, zorder=3)
        ax.set_xlim(*xlim)
        ax.set_ylim(n - 0.4, -0.6)
        ax.set_yticks(y)
        ax.set_yticklabels(terms, fontsize=lab_size)
        for lab in ax.get_yticklabels():
            lab.set_transform(lab.get_transform() + ScaledTranslation(0, lab_up / 100, fig.dpi_scale_trans))
        ax.set_xticks(range(0, 501, 100))
        ax.set_xticks(range(50, 501, 100), minor=True)
        ax.grid(True, which="major", color="#ececec", lw=pt(1))
        ax.grid(True, which="minor", color="#f5f5f5", lw=pt(0.7))
        ax.set_axisbelow(True)
        ax.tick_params(axis="y", length=pt(5), width=pt(1.2), pad=ylab_pad)
        ax.tick_params(axis="x", which="minor", length=0)
        for s in ax.spines.values():
            s.set_linewidth(pt(1.8))
            s.set_color("#222222")
        if tag == "MF":
            ax.tick_params(axis="x", length=pt(5), width=pt(1.2), labelsize=18, pad=pt(5))
        else:
            ax.tick_params(axis="x", which="major", bottom=False, labelbottom=False)
        st = px_ax(r, t, strip_r, b, facecolor="#d9d9d9")
        st.set_xticks([])
        st.set_yticks([])
        for s in st.spines.values():
            s.set_visible(False)
        st.text(0.5, 0.5, tag, rotation=-90, ha="center", va="center", fontsize=16, transform=st.transAxes)
    fig.add_artist(Rectangle((legend_x / W, 1 - 1347 / H), 25 / W, 31 / H, color=DOWN_RED, transform=fig.transFigure))
    fig.add_artist(Rectangle((legend_x / W, 1 - 1380 / H), 25 / W, 31 / H, color=UP_BLUE, transform=fig.transFigure))
    ftext(legend_x + 34, 1329, "down", 16, ha="left")
    ftext(legend_x + 34, 1364, "up", 16, ha="left")


CMAP = LinearSegmentedColormap.from_list("pv", ["#ff0000", "#ff0058", "#e000a0", "#a000d0", "#0000ff"])


def kegg(box, xlim, xticks, terms, rich, count, pval, plim, cb_box, cb_ticks, cb_fmt, legend_counts, k, c, labx, pv_y, ct_y, key_box, dots_y, lab_size):
    ax = px_ax(*box)
    n = len(terms)
    y = np.arange(n)
    diam = np.sqrt(c + k * np.array(count)) / 1.38
    ax.scatter(rich, y, s=pt(diam) ** 2, c=pval, cmap=CMAP, vmin=plim[0], vmax=plim[1], linewidths=0, zorder=3)
    ax.set_xlim(*xlim)
    ax.set_ylim(n - 0.4, -0.6)
    ax.set_yticks(y)
    ax.set_yticklabels(terms, fontsize=lab_size)
    ax.set_xticks(xticks)
    ax.set_xticks(np.array(xticks[:-1]) + (xticks[1] - xticks[0]) / 2, minor=True)
    ax.grid(True, which="major", color="#ececec", lw=pt(1))
    ax.grid(True, which="minor", axis="x", color="#f4f4f4", lw=pt(0.8))
    ax.set_axisbelow(True)
    ax.tick_params(axis="both", which="major", length=pt(5), width=pt(1.5), labelsize=lab_size, pad=pt(6))
    ax.tick_params(axis="x", which="minor", length=0)
    for s in ax.spines.values():
        s.set_linewidth(pt(2.6))
    ax.xaxis.set_major_formatter(matplotlib.ticker.FormatStrFormatter("%.1f"))
    cx = (box[0] + box[2]) / 2
    ftext(cx, 1982, "Enriched KEGG Pathways", 20.5)
    ftext(cx - 11, 2990, "Rich Factor", 20.5)
    cb = px_ax(*cb_box)
    cb.imshow(np.linspace(1, 0, 256)[:, None], aspect="auto", cmap=CMAP, extent=[0, 1, plim[0], plim[1]])
    cb.set_xticks([])
    cb.set_yticks([])
    for s in cb.spines.values():
        s.set_visible(False)
    for tick in cb_ticks:
        cb.plot([0, 0.2], [tick, tick], color="white", lw=pt(1))
        cb.plot([0.8, 1], [tick, tick], color="white", lw=pt(1))
        tick_y = cb_box[3] - (tick - plim[0]) / (plim[1] - plim[0]) * (cb_box[3] - cb_box[1])
        ftext(labx, tick_y, cb_fmt % tick, 17.5, ha="left")
    cb.set_xlim(0, 1)
    cb.set_ylim(*plim)
    ftext(cb_box[0], pv_y, "pvalue", 23, ha="left")
    ftext(cb_box[0], ct_y, "Count", 23, ha="left")
    key = px_ax(*key_box, facecolor="#f2f2f2")
    key.set_xlim(*key_box[0::2])
    key.set_ylim(key_box[3], key_box[1])
    key.axis("off")
    fig.add_artist(Rectangle((key_box[0] / W, 1 - key_box[3] / H), (key_box[2] - key_box[0]) / W, (key_box[3] - key_box[1]) / H, color="#f2f2f2", transform=fig.transFigure, zorder=0))
    for cnt, dy in zip(legend_counts, dots_y):
        d = np.sqrt(c + k * cnt) / 1.38
        key.scatter([(key_box[0] + key_box[2]) / 2], [dy], s=pt(d) ** 2, color="black", linewidths=0)
        ftext(labx, dy, str(cnt), 17.5, ha="left")


# ---------- panels A, B
volcano((287, 132, 989, 713), (-7.81, 9.21), (-0.1, 105.9), range(-6, 9, 2),
        expand(A_DOWN_TOP, A_DOWN_PTS, A_DOWN_ROWS), expand([], [], A_NS_ROWS), expand(A_UP_TOP, A_UP_PTS, A_UP_ROWS),
        [A_DOWN_ENV, A_UP_ENV, A_NS_LEFT_ENV, A_NS_RIGHT_ENV],
        (89, [(301, 320, "Down regulated (782)"), (603, 621, "Not sig (13755)"), (834, 855, "Up regulated (534)")]))
volcano((1173, 129, 1871, 714), (-12.17, 10.67), (-0.18, 105.9), range(-12, 10, 3),
        expand(B_DOWN_TOP, B_DOWN_PTS, B_DOWN_ROWS), expand([], [], B_NS_ROWS), expand(B_UP_TOP, B_UP_PTS, B_UP_ROWS),
        [B_DOWN_ENV, B_UP_ENV, B_NS_LEFT_ENV, B_NS_RIGHT_ENV],
        (90, [(1190, 1210, "Down regulated (301)"), (1473, 1491, "Not sig (13588)"), (1702, 1719, "Up regulated (189)")]))
ftext(631, 774, "log2 (Fold Change)", 25)
ftext(1530, 774, "log2 (Fold Change)", 25)
ylab = "\u2212log$_{10}$(Pvalue)"
ftext(202, 357, ylab, 26, rotation=90)
ftext(1100, 357, ylab, 26, rotation=90)

# ---------- panels C, D
go_bars(457, 853, [(890, 1383), (1394, 1454), (1465, 1795)], (-23.2, 509),
        [(C_BP, C_BP_UP, C_BP_DOWN, "BP"), (C_CC, C_CC_UP, C_CC_DOWN, "CC"), (C_MF, C_MF_UP, C_MF_DOWN, "MF")], 878, 893, pt(11), 18, 4)
go_bars(1502, 1904, [(890, 1365), (1376, 1430), (1442, 1793)], (-23.9, 527.6),
        [(D_BP, D_BP_UP, D_BP_DOWN, "BP"), (D_CC, D_CC_UP, D_CC_DOWN, "CC"), (D_MF, D_MF_UP, D_MF_DOWN, "MF")], 1930, 1950, pt(9), 18.5, 3)
ftext(660, 1856, "Gene number", 21)
ftext(1703, 1856, "Gene number", 21)

# ---------- panels E, F
kegg((471, 2010, 996, 2940), (-0.0324, 0.734), [0.0, 0.2, 0.4, 0.6], E_PATHS, E_RICH, E_COUNT, E_PVAL, (0.001, 0.188),
     (1031, 2330, 1066, 2486), E_CB_TICKS, "%.2f", E_LEG_COUNT, 27, 22, 1081, 2304, 2540, (1031, 2565, 1066, 2660), [2581, 2613, 2644], 18.4)
kegg((1634, 2010, 2163, 2936), (-0.001, 0.4364), [0.0, 0.1, 0.2, 0.3, 0.4], F_PATHS, F_RICH, F_COUNT, F_PVAL, (0.0012, 0.0906),
     (2198, 2328, 2235, 2483), F_CB_TICKS, "%.3f", F_LEG_COUNT, 25.4, 80, 2251, 2302, 2538, (2198, 2563, 2235, 2657), [2578, 2609, 2641], 19)

# ---------- panel G
den = px_ax(2239, 148, 2863, 645)
den.spines["left"].set_position(("outward", pt(25)))
den.set_xlim(272, 1496)
den.set_ylim(0.092, 1.0)
den_x = [b[0] for b in DEN_BRANCHES]
den_bot = [b[2] for b in DEN_BRANCHES]
guide_x = np.arange(296, 1496, 25.5)
guide_top = [min([bt for x, bt in zip(den_x, den_bot) if abs(x - gx) < 14] or [0.7]) - 0.005 for gx in guide_x]
den.vlines(guide_x, 0.092, guide_top, color="#777777", lw=pt(1.6), ls=(0, (1, 4)))
den.vlines(den_x, [b[1] for b in DEN_BRANCHES], den_bot, color="black", lw=pt(2.6), capstyle="butt")
for x0, x1, h in DEN_MERGES:
    den.plot([x0, x1], [h, h], color="black", lw=pt(1.6), solid_capstyle="butt", clip_on=False)
den.set_xticks([])
den.set_yticks([0.2, 0.4, 0.6, 0.8, 1.0])
den.set_yticklabels(["0.2", "0.4", "0.6", "0.8", "1.0"], rotation=90, va="center", fontsize=21)
den.tick_params(axis="y", length=pt(12), width=pt(1.5), pad=pt(5))
for side in ("top", "right", "bottom"):
    den.spines[side].set_visible(False)
den.spines["left"].set_linewidth(pt(1.5))
den.spines["left"].set_bounds(0.092, 1.0)
ftext(2613, 100, "Cluster Dendrogram", 28.5)
ftext(2128, 357, "Height", 27, rotation=90)
ftext(2222, 702, "Module colors", 28, ha="right")

mod = px_ax(2239, 651, 2863, 766)
mod.barh(0, MODULE_WIDTHS, left=np.cumsum([0] + MODULE_WIDTHS[:-1]), height=1, color=MODULE_COLORS)
mod.set_xlim(0, sum(MODULE_WIDTHS))
mod.set_ylim(-0.5, 0.5)
mod.set_xticks([])
mod.set_yticks([])
for side, s in mod.spines.items():
    s.set_visible(side in ("top", "bottom"))
    s.set_linewidth(pt(2))

# ---------- panel H
net = px_ax(2100, 850, 3580, 1950)
net.set_xlim(0, 1568)
net.set_ylim(1568, 0)
net.axis("off")
net.patch.set_alpha(0)
for hub, others in NET_EDGES.items():
    x0, y0 = NET_NODES[hub][:2]
    strong = hub in ("TLR2", "GBP1", "CD40", TGFB)
    for other in others:
        x1, y1 = NET_NODES[other][:2]
        net.plot([x0, x1], [y0, y1], color="#666666" if strong else "#aaaaaa", lw=pt(1.0), alpha=0.55 if strong else 0.6, zorder=1)
for name, (nx, ny, tx, ty, grp) in NET_NODES.items():
    net.scatter([nx], [ny], s=pt(19) ** 2, color=NET_COLORS[grp], linewidths=0, zorder=2)
    net.text(tx, ty, name, fontsize=16.5, ha="center", va="center", zorder=3)
for label, tx, ty in NET_TITLES:
    net.text(tx, ty, label, fontsize=22.3, fontweight="bold", ha="center", va="center", color="#2a1410", zorder=4)

for letter, lx, ly in PANEL_LETTERS:
    ftext(lx, ly, letter, 37)

fig.savefig("out.png", dpi=100)
